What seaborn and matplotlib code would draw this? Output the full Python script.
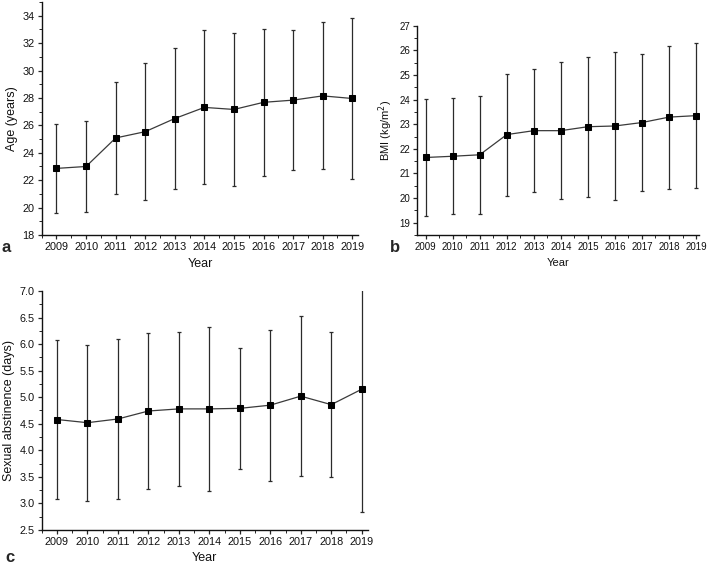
import numpy as np
import pandas as pd
import seaborn as sns
import matplotlib.pyplot as plt
from matplotlib.ticker import MultipleLocator

years = [2009, 2010, 2011, 2012, 2013, 2014, 2015, 2016, 2017, 2018, 2019]

# Panel a: age (years), mean and SD
age_mean = [22.86, 23.0, 25.08, 25.54, 26.5, 27.31, 27.16, 27.68, 27.84, 28.15, 27.96]
age_sd = [3.25, 3.35, 4.1, 4.98, 5.13, 5.62, 5.6, 5.34, 5.11, 5.36, 5.88]

# Panel b: BMI (kg/m2)
bmi_mean = [21.65, 21.70, 21.76, 22.58, 22.74, 22.74, 22.90, 22.93, 23.07, 23.29, 23.35]
bmi_sd = [2.37, 2.35, 2.40, 2.48, 2.50, 2.77, 2.85, 3.00, 2.80, 2.90, 2.94]

# Panel c: sexual abstinence (days)
abst_mean = [4.58, 4.52, 4.59, 4.74, 4.78, 4.78, 4.79, 4.85, 5.02, 4.86, 5.15]
abst_sd = [1.50, 1.47, 1.50, 1.47, 1.45, 1.55, 1.14, 1.42, 1.51, 1.37, 2.31]

sns.set_style("ticks")
plt.rcParams['font.family'] = ['Liberation Sans', 'DejaVu Sans']
plt.rcParams['xtick.direction'] = 'out'
plt.rcParams['ytick.direction'] = 'out'

fig = plt.figure(figsize=(7.08, 5.67), dpi=100)


def panel(rect, mean, sd, ylabel, ylim, xlim, ymajor, tick_fs, lab_fs):
    ax = fig.add_axes(rect)
    df = pd.DataFrame({"Year": years, "val": mean, "sd": sd})
    ax.errorbar(df["Year"], df["val"], yerr=df["sd"], fmt="none",
                ecolor="#2b2b2b", elinewidth=0.9, capsize=1.6, capthick=0.9)
    sns.lineplot(data=df, x="Year", y="val", ax=ax, color="#3a3a3a",
                 linewidth=0.9, marker="s", markersize=5,
                 markerfacecolor="black", markeredgecolor="black")
    ax.set_xlim(*xlim)
    ax.set_ylim(*ylim)
    ax.set_xticks(years)
    ax.set_xticklabels([str(y) for y in years])
    ax.xaxis.set_minor_locator(MultipleLocator(0.5))
    ax.yaxis.set_major_locator(MultipleLocator(ymajor))
    ax.yaxis.set_minor_locator(MultipleLocator(ymajor / 2))
    ax.tick_params(which="major", length=3, width=0.9, labelsize=tick_fs, pad=2,
                   labelcolor="#111111")
    ax.tick_params(which="minor", length=2, width=0.7)
    ax.set_xlabel("Year", fontsize=lab_fs, labelpad=4, color="#111111")
    ax.set_ylabel(ylabel, fontsize=lab_fs, labelpad=3, color="#111111")
    sns.despine(ax=ax)
    for s in ("left", "bottom"):
        ax.spines[s].set_linewidth(1.0)
        ax.spines[s].set_color("#111111")
    return ax


ax_a = panel([0.0589, 0.5855, 0.447, 0.411], age_mean, age_sd, "Age (years)",
             (18, 35), (2008.5, 2019.2), 2, 7.8, 9)
ax_a.yaxis.set_major_formatter(plt.FuncFormatter(lambda v, p: f"{v:.0f}"))

ax_b = panel([0.5894, 0.5855, 0.3975, 0.369], bmi_mean, bmi_sd, "BMI (kg/m$^2$)",
             (18.5, 27), (2008.69, 2019.1), 1, 7, 8)
ax_b.yaxis.set_major_formatter(plt.FuncFormatter(lambda v, p: f"{v:.0f}"))

ax_c = panel([0.0589, 0.0653, 0.4606, 0.4215], abst_mean, abst_sd,
             "Sexual abstinence (days)", (2.5, 7.0), (2008.5, 2019.2), 0.5, 7.8, 9)
ax_c.yaxis.set_major_formatter(plt.FuncFormatter(lambda v, p: f"{v:.1f}"))

fig.text(0.002, 1 - 247 / 567, "a", fontsize=12, fontweight="bold", va="center")
fig.text(390 / 708, 1 - 247 / 567, "b", fontsize=12, fontweight="bold", va="center")
fig.text(0.008, 1 - 558 / 567, "c", fontsize=12, fontweight="bold", va="center")

fig.savefig("out.png", dpi=100)
